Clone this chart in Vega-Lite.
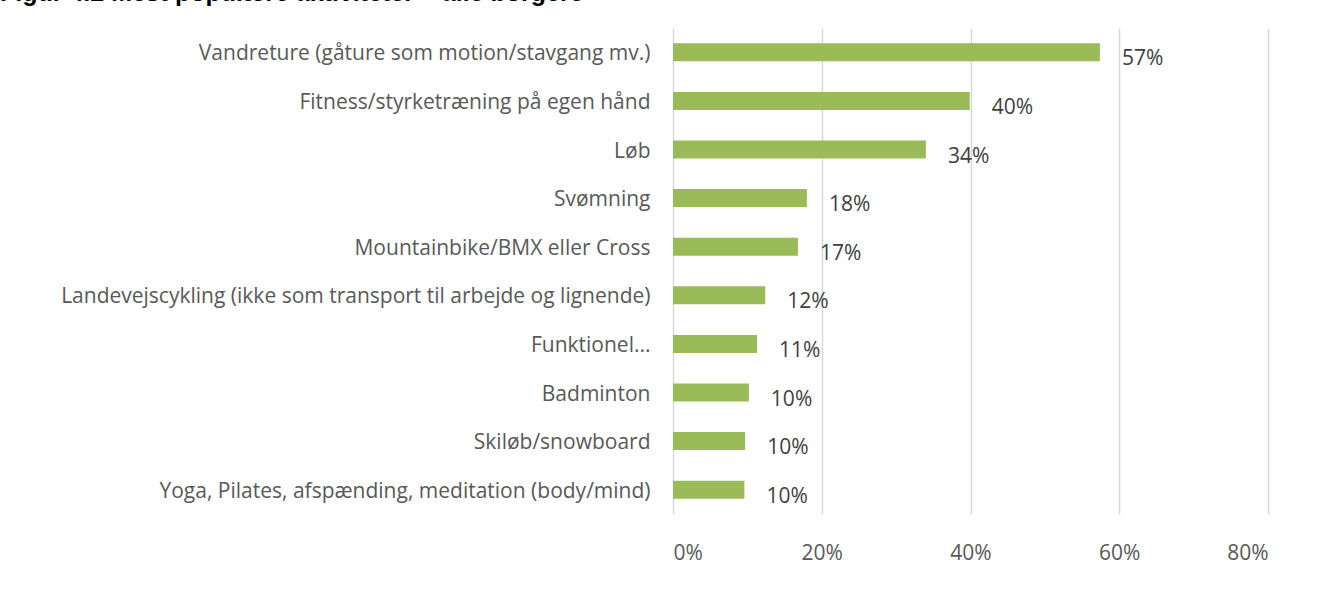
{
  "$schema": "https://vega.github.io/schema/vega-lite/v6.json",
  "autosize": "none",
  "width": 595,
  "height": 486,
  "padding": {"left": 673, "top": 28, "right": 68, "bottom": 80},
  "background": "white",
  "title": {
    "text": "Figur 4.2 Mest populære aktiviteter – alle borgere",
    "anchor": "start",
    "frame": "group",
    "dx": -673,
    "offset": 8,
    "dy": 6,
    "baseline": "alphabetic",
    "font": "Liberation Sans",
    "fontSize": 25,
    "fontWeight": "bold",
    "color": "black"
  },
  "data": {
    "values": [
      {"aktivitet": "Vandreture (gåture som motion/stavgang mv.)", "andel": 0.574},
      {"aktivitet": "Fitness/styrketræning på egen hånd", "andel": 0.399},
      {"aktivitet": "Løb", "andel": 0.34},
      {"aktivitet": "Svømning", "andel": 0.18},
      {"aktivitet": "Mountainbike/BMX eller Cross", "andel": 0.168},
      {"aktivitet": "Landevejscykling (ikke som transport til arbejde og lignende)", "andel": 0.124},
      {"aktivitet": "Funktionel...", "andel": 0.113},
      {"aktivitet": "Badminton", "andel": 0.102},
      {"aktivitet": "Skiløb/snowboard", "andel": 0.097},
      {"aktivitet": "Yoga, Pilates, afspænding, meditation (body/mind)", "andel": 0.096}
    ]
  },
  "config": {
    "view": {"stroke": null},
    "font": "Open Sans"
  },
  "encoding": {
    "y": {
      "field": "aktivitet",
      "type": "nominal",
      "sort": null,
      "title": null,
      "scale": {"paddingInner": 0.63, "paddingOuter": 0.315},
      "axis": {
        "ticks": false,
        "domain": false,
        "labelPadding": 23,
        "labelOffset": 2,
        "labelFont": "Open Sans",
        "labelFontSize": 21,
        "labelColor": "#595959",
        "labelLimit": 0
      }
    },
    "x": {
      "field": "andel",
      "type": "quantitative",
      "title": null,
      "scale": {"domain": [0, 0.8], "nice": false},
      "axis": {
        "values": [0, 0.2, 0.4, 0.6, 0.8],
        "format": ".0%",
        "ticks": false,
        "domain": false,
        "grid": true,
        "gridColor": "#D9D9D9",
        "gridWidth": 1.5,
        "labelPadding": 28,
        "labelFont": "Open Sans",
        "labelFontSize": 21,
        "labelColor": "#595959"
      }
    }
  },
  "layer": [
    {"mark": {"type": "bar", "color": "#9BBB59"}},
    {
      "mark": {"type": "text", "align": "left", "baseline": "middle", "dx": 22, "dy": 7, "font": "Open Sans", "fontSize": 21, "color": "#404040"},
      "encoding": {"text": {"field": "andel", "format": ".0%"}}
    }
  ]
}
